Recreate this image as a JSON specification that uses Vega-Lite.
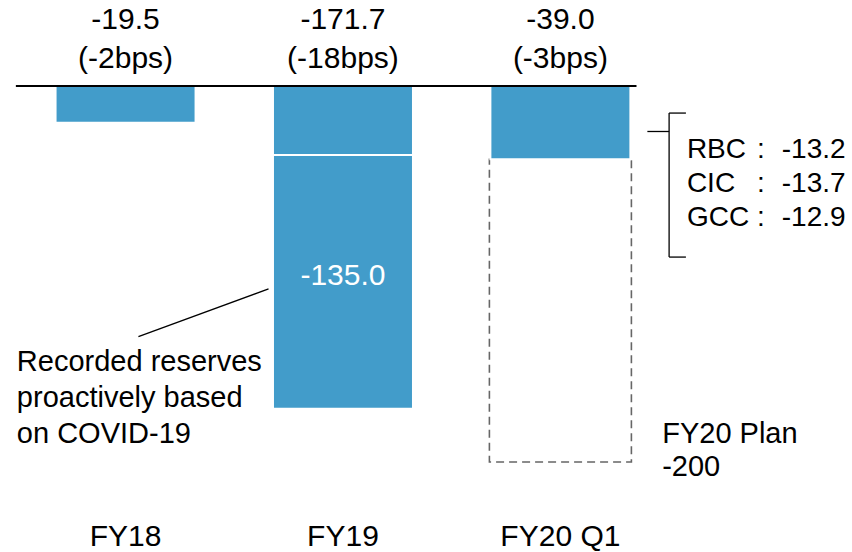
{
  "$schema": "https://vega.github.io/schema/vega-lite/v6.json",
  "width": 852,
  "height": 552,
  "autosize": {"type": "none"},
  "padding": 0,
  "background": "white",
  "config": {"view": {"stroke": null}, "font": "Liberation Sans", "text": {"font": "Liberation Sans", "color": "#000000"}},
  "datasets": {
    "bars": [
      {"period": "FY18", "idx": 1, "from": 0, "to": -19.5, "label": "-19.5", "covid": false},
      {"period": "FY19", "idx": 2, "from": 0, "to": -36.7, "label": "-36.7", "covid": false},
      {"period": "FY19", "idx": 2, "from": -36.7, "to": -171.7, "label": "-135.0", "covid": true},
      {"period": "FY20 Q1", "idx": 3, "from": 0, "to": -39.0, "label": "-39.0", "covid": false}
    ],
    "totals": [
      {"period": "FY18", "idx": 1, "total": "-19.5", "bps": "(-2bps)"},
      {"period": "FY19", "idx": 2, "total": "-171.7", "bps": "(-18bps)"},
      {"period": "FY20 Q1", "idx": 3, "total": "-39.0", "bps": "(-3bps)"}
    ],
    "plan": [{"period": "FY20 Q1", "idx": 3, "from": -39.0, "to": -200}],
    "breakdown": [
      {"unit": "RBC", "value": "-13.2"},
      {"unit": "CIC", "value": "-13.7"},
      {"unit": "GCC", "value": "-12.9"}
    ]
  },
  "layer": [
    {
      "data": {"name": "plan"},
      "mark": {"type": "bar", "width": 142, "fill": "white", "fillOpacity": 0, "stroke": "#666666", "strokeWidth": 1.6, "strokeDash": [8, 5]},
      "encoding": {
        "x": {"field": "idx", "type": "quantitative", "scale": {"domain": [0.4455, 4.3182], "nice": false, "zero": false}, "axis": null},
        "y": {"field": "from", "type": "quantitative", "scale": {"domain": [-247.87, 45.74], "nice": false, "zero": false}, "axis": null},
        "y2": {"field": "to"}
      }
    },
    {
      "data": {"name": "bars"},
      "mark": {"type": "bar", "width": 140, "fill": "#429CCA", "stroke": "white", "strokeWidth": 2},
      "encoding": {
        "x": {"field": "idx", "type": "quantitative"},
        "y": {"field": "from", "type": "quantitative"},
        "y2": {"field": "to"}
      }
    },
    {
      "data": {"values": [{}]},
      "mark": {"type": "rule", "color": "#000000", "strokeWidth": 2},
      "encoding": {
        "x": {"datum": 0.4955, "type": "quantitative"},
        "x2": {"datum": 3.35},
        "y": {"datum": 0, "type": "quantitative"}
      }
    },
    {
      "data": {"name": "totals"},
      "mark": {"type": "text", "fontSize": 30, "align": "center", "baseline": "middle"},
      "encoding": {
        "x": {"field": "idx", "type": "quantitative"},
        "y": {"datum": 35.1, "type": "quantitative"},
        "text": {"field": "total"}
      }
    },
    {
      "data": {"name": "totals"},
      "mark": {"type": "text", "fontSize": 30, "align": "center", "baseline": "middle"},
      "encoding": {
        "x": {"field": "idx", "type": "quantitative"},
        "y": {"datum": 14.4, "type": "quantitative"},
        "text": {"field": "bps"}
      }
    },
    {
      "data": {"name": "totals"},
      "mark": {"type": "text", "fontSize": 30, "align": "center", "baseline": "middle"},
      "encoding": {
        "x": {"field": "idx", "type": "quantitative"},
        "y": {"datum": -240.0, "type": "quantitative"},
        "text": {"field": "period"}
      }
    },
    {
      "data": {"name": "bars"},
      "transform": [{"filter": "datum.covid"}],
      "mark": {"type": "text", "fontSize": 30, "align": "center", "baseline": "middle", "color": "white"},
      "encoding": {
        "x": {"field": "idx", "type": "quantitative"},
        "y": {"datum": -100.8, "type": "quantitative"},
        "text": {"field": "label"}
      }
    },
    {
      "data": {"values": [{}]},
      "mark": {"type": "rule", "color": "#000000", "strokeWidth": 1.3},
      "encoding": {
        "x": {"datum": 1.6577, "type": "quantitative"},
        "y": {"datum": -107.9, "type": "quantitative"},
        "x2": {"datum": 1.0591},
        "y2": {"datum": -133.3}
      }
    },
    {
      "data": {"values": [{}]},
      "mark": {"type": "text", "fontSize": 29, "align": "left", "baseline": "middle", "lineHeight": 36},
      "encoding": {
        "x": {"datum": 0.5, "type": "quantitative"},
        "y": {"datum": -146.8, "type": "quantitative"},
        "text": {"value": ["Recorded reserves", "proactively based", "on COVID-19"]}
      }
    },
    {
      "data": {"values": [{}]},
      "mark": {"type": "text", "fontSize": 29, "align": "left", "baseline": "middle", "lineHeight": 33},
      "encoding": {
        "x": {"datum": 3.4682, "type": "quantitative"},
        "y": {"datum": -185.1, "type": "quantitative"},
        "text": {"value": ["FY20 Plan", "-200"]}
      }
    },
    {
      "data": {"values": [{}]},
      "mark": {"type": "rule", "color": "#000000", "strokeWidth": 1.3},
      "encoding": {
        "x": {"datum": 3.5, "type": "quantitative"},
        "y": {"datum": -14.4, "type": "quantitative"},
        "y2": {"datum": -91.0}
      }
    },
    {
      "data": {"values": [{}]},
      "mark": {"type": "rule", "color": "#000000", "strokeWidth": 1.3},
      "encoding": {
        "x": {"datum": 3.5, "type": "quantitative"},
        "x2": {"datum": 3.5773},
        "y": {"datum": -14.4, "type": "quantitative"}
      }
    },
    {
      "data": {"values": [{}]},
      "mark": {"type": "rule", "color": "#000000", "strokeWidth": 1.3},
      "encoding": {
        "x": {"datum": 3.5, "type": "quantitative"},
        "x2": {"datum": 3.5773},
        "y": {"datum": -91.0, "type": "quantitative"}
      }
    },
    {
      "data": {"values": [{}]},
      "mark": {"type": "rule", "color": "#000000", "strokeWidth": 1.3},
      "encoding": {
        "x": {"datum": 3.4, "type": "quantitative"},
        "x2": {"datum": 3.5},
        "y": {"datum": -24.2, "type": "quantitative"}
      }
    },
    {
      "data": {"name": "breakdown"},
      "mark": {"type": "text", "fontSize": 28, "align": "left", "baseline": "middle"},
      "encoding": {
        "x": {"datum": 3.5818, "type": "quantitative"},
        "y": {"datum": -34.0, "type": "quantitative"},
        "yOffset": {"field": "unit", "type": "nominal", "scale": {"type": "point", "domain": ["RBC", "CIC", "GCC"], "range": [0, 68], "padding": 0}},
        "text": {"field": "unit"}
      }
    },
    {
      "data": {"name": "breakdown"},
      "mark": {"type": "text", "fontSize": 28, "align": "center", "baseline": "middle"},
      "encoding": {
        "x": {"datum": 3.9227, "type": "quantitative"},
        "y": {"datum": -34.0, "type": "quantitative"},
        "yOffset": {"field": "unit", "type": "nominal", "scale": {"type": "point", "domain": ["RBC", "CIC", "GCC"], "range": [0, 68], "padding": 0}},
        "text": {"value": ":"}
      }
    },
    {
      "data": {"name": "breakdown"},
      "mark": {"type": "text", "fontSize": 28, "align": "left", "baseline": "middle"},
      "encoding": {
        "x": {"datum": 4.0182, "type": "quantitative"},
        "y": {"datum": -34.0, "type": "quantitative"},
        "yOffset": {"field": "unit", "type": "nominal", "scale": {"type": "point", "domain": ["RBC", "CIC", "GCC"], "range": [0, 68], "padding": 0}},
        "text": {"field": "value"}
      }
    }
  ]
}
